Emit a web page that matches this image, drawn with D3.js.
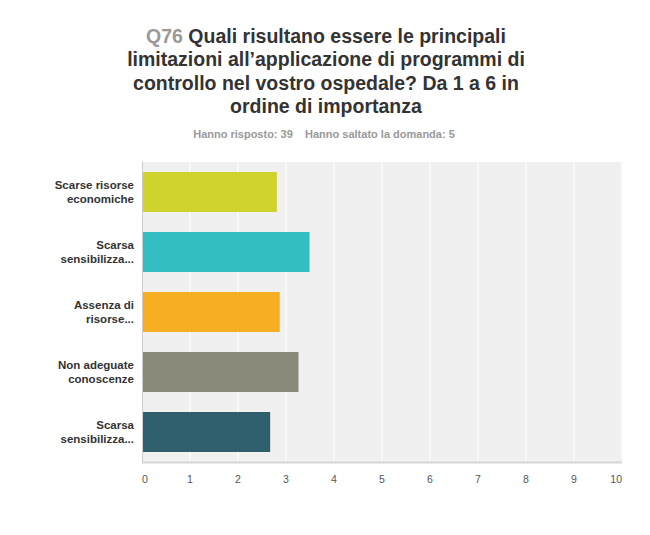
<!DOCTYPE html>
<html><head><meta charset="utf-8">
<script src="https://cdn.jsdelivr.net/npm/d3@7"></script>
<style>body{margin:0;background:#fff;} svg{display:block;font-family:"Liberation Sans",Arial,sans-serif;}</style>
</head><body>
<script>
const categories = [
  ["Scarse risorse","economiche"],
  ["Scarsa","sensibilizza..."],
  ["Assenza di","risorse..."],
  ["Non adeguate","conoscenze"],
  ["Scarsa","sensibilizza..."]
];
const values = [2.81, 3.49, 2.87, 3.26, 2.67];
const colors = ["#d0d32b","#33bec1","#f8ae22","#8a8a7a","#2f5f6d"];
const xTicks = [0,1,2,3,4,5,6,7,8,9,10];
const titleLines = ["Quali risultano essere le principali","limitazioni all\u2019applicazione di programmi di","controllo nel vostro ospedale? Da 1 a 6 in","ordine di importanza"];
const questionId = "Q76";
const subtitle = ["Hanno risposto: 39","Hanno saltato la domanda: 5"];

const W=650,H=535;
const svg=d3.select("body").append("svg").attr("width",W).attr("height",H);
const m={left:142,right:622,top:162,bottom:462};
const x=d3.scaleLinear().domain([0,10]).range([m.left,m.right]);
const y=d3.scaleBand().domain(d3.range(categories.length)).range([m.top,m.bottom]).paddingInner(1/3).paddingOuter(1/6);

// title
const t=svg.append("text").attr("text-anchor","middle").attr("font-weight","bold").attr("font-size",19.5).attr("fill","#333");
titleLines.forEach((l,i)=>{
  const ts=t.append("tspan").attr("x",326).attr("y",43+i*23.3);
  if(i===0){ts.append("tspan").attr("fill","#999").text(questionId+" ");}
  ts.append("tspan").text(l);
});
svg.append("text").attr("x",324).attr("y",138).attr("text-anchor","middle").attr("font-size",11).attr("font-weight","bold").attr("fill","#999")
  .attr("xml:space","preserve").text(subtitle[0]+"    "+subtitle[1]);

// background
svg.append("rect").attr("x",m.left).attr("y",m.top).attr("width",m.right-m.left).attr("height",m.bottom-m.top).attr("fill","#f0f0f0");
svg.append("g").selectAll("line").data(xTicks.slice(1)).join("line")
  .attr("x1",d=>x(d)).attr("x2",d=>x(d)).attr("y1",m.top).attr("y2",m.bottom).attr("stroke","#fff").attr("stroke-width",1);

// bars
svg.append("g").selectAll("rect").data(values).join("rect")
  .attr("x",x(0)).attr("y",(d,i)=>y(i)).attr("width",d=>x(d)-x(0)).attr("height",y.bandwidth()).attr("fill",(d,i)=>colors[i]);

// axes lines
svg.append("line").attr("x1",m.left+0.5).attr("x2",m.left+0.5).attr("y1",m.top).attr("y2",m.bottom).attr("stroke","#ccc");
svg.append("line").attr("x1",m.left).attr("x2",m.right).attr("y1",m.bottom+0.5).attr("y2",m.bottom+0.5).attr("stroke","#d6d6d6").attr("stroke-width",2);

// x tick labels
svg.append("g").selectAll("text").data(xTicks).join("text")
  .attr("x",d=>x(d)).attr("y",483).attr("font-size",10.5).attr("fill","#555")
  .attr("text-anchor",(d,i)=>i===0?"start":(i===xTicks.length-1?"end":"middle")).text(d=>d);

// y labels
const yl=svg.append("g").selectAll("text").data(categories).join("text")
  .attr("text-anchor","end").attr("font-size",11.5).attr("font-weight","bold").attr("fill","#333");
yl.each(function(d,i){
  const c=y(i)+y.bandwidth()/2;
  d.forEach((l,j)=>{
    d3.select(this).append("tspan").attr("x",134).attr("y",c-3+j*14).text(l);
  });
});
</script>
</body></html>
